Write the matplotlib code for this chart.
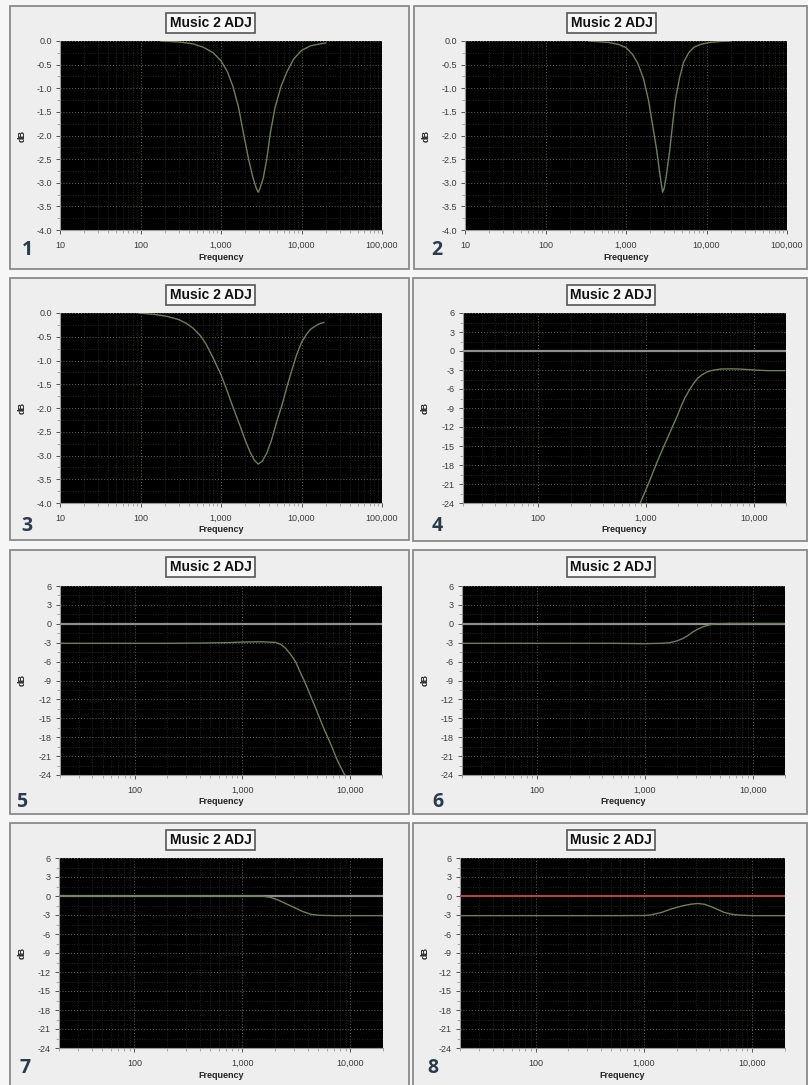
import matplotlib
matplotlib.use('Agg')
import matplotlib.pyplot as plt
from matplotlib.patches import Rectangle
from matplotlib.ticker import FixedLocator, FixedFormatter, LogLocator, NullFormatter, MultipleLocator

plt.rcParams['font.family'] = ['Liberation Sans', 'DejaVu Sans']
plt.rcParams['axes.unicode_minus'] = False

W, H = 808, 1085
TITLE = 'Music 2 ADJ'

# --- data (Hz, dB) ---
# panels 1-3: notch filters, 10 Hz - 100 kHz, 0 .. -4 dB
freq1 = [180, 300, 450, 600, 800, 1000, 1200, 1400, 1650, 1900, 2200, 2500, 2750, 2900,
         3050, 3350, 3700, 4100, 4700, 5600, 6600, 8000, 10000, 13000, 20000]
db1 = [0.0, -0.02, -0.06, -0.13, -0.25, -0.42, -0.65, -0.95, -1.4, -1.95, -2.5, -2.9, -3.12, -3.2,
       -3.12, -2.9, -2.5, -1.95, -1.4, -0.95, -0.65, -0.38, -0.2, -0.1, -0.04]

freq2 = [350, 600, 800, 1000, 1200, 1400, 1650, 1900, 2150, 2400, 2650, 2850, 3000, 3200,
         3500, 3800, 4100, 4600, 5200, 6000, 7000, 8500, 11000, 15000, 20000]
db2 = [0.0, -0.03, -0.07, -0.14, -0.28, -0.47, -0.8, -1.25, -1.8, -2.3, -2.85, -3.2, -3.1, -2.8,
       -2.3, -1.75, -1.25, -0.8, -0.45, -0.25, -0.13, -0.07, -0.03, -0.01, 0.0]

freq3 = [95, 150, 213, 300, 373, 450, 550, 650, 800, 1000, 1170, 1400, 1720, 2000, 2300, 2600,
         2900, 3250, 3700, 4200, 4900, 5700, 6600, 7600, 8700, 10000, 11500, 13000, 15000, 17000, 19000]
db3 = [0.0, -0.03, -0.07, -0.14, -0.22, -0.32, -0.47, -0.65, -0.95, -1.3, -1.6, -1.97, -2.37, -2.68, -2.93, -3.1,
       -3.18, -3.12, -2.95, -2.7, -2.3, -1.95, -1.55, -1.2, -0.88, -0.62, -0.45, -0.34, -0.27, -0.22, -0.2]

# panels 4-8: 20 Hz - 20 kHz, -24 .. 6 dB
freq4 = [885, 1000, 1112, 1250, 1428, 1600, 1770, 1950, 2115, 2300, 2525, 2750, 3020, 3350, 3740,
         4300, 4970, 6000, 7600, 10000, 13500, 19500]
db4 = [-24.0, -21.9, -20.0, -17.8, -15.5, -13.6, -11.9, -10.3, -8.8, -7.4, -6.2, -5.2, -4.3, -3.7, -3.27,
       -3.0, -2.85, -2.82, -2.85, -3.0, -3.1, -3.1]

freq5 = [20, 50, 100, 200, 400, 700, 1000, 1500, 2040, 2300, 2530, 2800, 3130, 3400, 3740, 4100,
         4480, 4900, 5340, 5800, 6390, 7000, 7640, 8400, 9300]
db5 = [-3.1, -3.1, -3.1, -3.1, -3.05, -3.0, -2.9, -2.85, -2.95, -3.3, -3.9, -4.8, -6.0, -7.4, -8.9, -10.5,
       -12.1, -13.7, -15.3, -16.8, -18.4, -20.0, -21.6, -23.0, -24.5]

freq6 = [20, 100, 500, 1000, 1400, 1700, 2000, 2270, 2540, 2810, 3150, 3480, 4000, 4630, 6000, 10000, 19500]
db6 = [-3.1, -3.1, -3.1, -3.15, -3.1, -3.0, -2.7, -2.3, -1.8, -1.25, -0.8, -0.46, -0.15, 0.0, 0.05, 0.05, 0.05]

freq7 = [20, 100, 1000, 1500, 1800, 2140, 2550, 3050, 3600, 4330, 5200, 7000, 10000, 20000]
db7 = [0.0, 0.0, 0.0, 0.0, -0.2, -0.63, -1.25, -1.85, -2.45, -2.9, -3.05, -3.1, -3.1, -3.1]

freq8 = [20, 100, 500, 1000, 1150, 1450, 1760, 2050, 2340, 2700, 3110, 3600, 4120, 4800, 5470,
         6300, 7250, 10000, 20000]
db8 = [-3.1, -3.1, -3.1, -3.08, -3.0, -2.6, -2.07, -1.75, -1.5, -1.3, -1.18, -1.3, -1.65, -2.15, -2.58,
       -2.85, -3.0, -3.1, -3.1]

ref_freq = [20, 19500]
ref_db = [0, 0]

wide_xticks = [10, 100, 1000, 10000, 100000]
wide_yticks = [0.0, -0.5, -1.0, -1.5, -2.0, -2.5, -3.0, -3.5, -4.0]
narrow_xticks = [100, 1000, 10000]
narrow_yticks = [6, 3, 0, -3, -6, -9, -12, -15, -18, -21, -24]

# --- layout in pixels: frame (l, t, r, b), plot (l, t, r, b), number position ---
panels = [
    (1, (10, 6, 409, 269), (60, 41, 382, 230), (27, 250), freq1, db1, None),
    (2, (414, 6, 807, 269), (465, 41, 787, 230), (437, 250), freq2, db2, None),
    (3, (10, 278, 409, 540), (60, 313, 382, 503), (27, 526), freq3, db3, None),
    (4, (413, 278, 807, 541), (463, 313, 786, 503), (437, 526), freq4, db4, '#8e8e8e'),
    (5, (10, 550, 409, 814), (60, 586, 382, 775), (22, 802), freq5, db5, '#8e8e8e'),
    (6, (413, 550, 807, 814), (462, 586, 785, 775), (438, 802), freq6, db6, '#8e8e8e'),
    (7, (10, 823, 409, 1092), (59, 858, 383, 1048), (25, 1068), freq7, db7, '#8e8e8e'),
    (8, (413, 823, 807, 1092), (460, 858, 785, 1048), (433, 1068), freq8, db8, '#a84842'),
]

fig = plt.figure(figsize=(W / 100, H / 100), dpi=100)
fig.patch.set_facecolor('#f6f6f6')


def fx(x):
    return x / W


def fy(y):
    return 1 - y / H


for num, frame, plot, numpos, freq, db, ref_color in panels:
    fl, ft, fr, fb = frame
    fig.add_artist(Rectangle((fx(fl), fy(fb)), (fr - fl) / W, (fb - ft) / H,
                             transform=fig.transFigure, facecolor='#eeeeee',
                             edgecolor='#8a8a8a', lw=1.3, zorder=0))
    pl, pt, pr, pb = plot
    ax = fig.add_axes([fx(pl), fy(pb), (pr - pl) / W, (pb - pt) / H])
    ax.set_facecolor('black')
    ax.set_xscale('log')
    wide = num <= 3
    if wide:
        ax.set_xlim(10, 100000)
        ax.set_ylim(-4, 0)
        ax.xaxis.set_major_locator(FixedLocator(wide_xticks))
        ax.xaxis.set_major_formatter(FixedFormatter([f'{v:,}' for v in wide_xticks]))
        ax.yaxis.set_major_locator(FixedLocator(wide_yticks))
        ax.yaxis.set_major_formatter(FixedFormatter([f'{v:.1f}' for v in wide_yticks]))
        ax.yaxis.set_minor_locator(MultipleLocator(0.25))
    else:
        ax.set_xlim(20, 20000)
        ax.set_ylim(-24, 6)
        ax.xaxis.set_major_locator(FixedLocator(narrow_xticks))
        ax.xaxis.set_major_formatter(FixedFormatter([f'{v:,}' for v in narrow_xticks]))
        ax.yaxis.set_major_locator(FixedLocator(narrow_yticks))
        ax.yaxis.set_major_formatter(FixedFormatter([str(v) for v in narrow_yticks]))
        ax.yaxis.set_minor_locator(MultipleLocator(1.5))
    ax.xaxis.set_minor_locator(LogLocator(base=10, subs=range(2, 10)))
    ax.xaxis.set_minor_formatter(NullFormatter())

    ax.grid(which='major', color='#66664e', ls=(0, (1, 2)), lw=0.7)
    ax.grid(which='minor', color='#2c2c24', ls=(0, (1, 2)), lw=0.6)
    ax.set_axisbelow(True)
    for side in ['top', 'right']:
        ax.spines[side].set_visible(False)
    for side in ['left', 'bottom']:
        ax.spines[side].set_color('#9a9a9a')
        ax.spines[side].set_linewidth(0.8)
    ax.tick_params(which='major', labelsize=6.5, colors='#3a3a3a', length=3, width=0.6, pad=3)
    ax.tick_params(which='minor', length=2, width=0.5, colors='#8a8a8a')
    ax.tick_params(axis='x', pad=5)

    if ref_color:
        ax.plot(ref_freq, ref_db, color=ref_color, lw=1.6, zorder=3)
    ax.plot(freq, db, color='#6d7f5d', lw=1.0, zorder=4)

    # title box, axis labels, panel number
    fig.text(fx((fl + fr) / 2 + 1), fy(ft + 17), TITLE, ha='center', va='center',
             fontsize=10, fontweight='bold', color='#111111',
             bbox=dict(boxstyle='square,pad=0.25', fc='#f8f8f8', ec='#555555', lw=1.2))
    fig.text(fx(fl + 12), fy((pt + pb) / 2), 'dB', rotation=90, ha='center', va='center',
             fontsize=6.5, fontweight='bold', color='#222222')
    fig.text(fx((pl + pr) / 2), fy(pb + 27), 'Frequency', ha='center', va='center',
             fontsize=6.5, fontweight='bold', color='#222222')
    fig.text(fx(numpos[0]), fy(numpos[1]), str(num), ha='center', va='center',
             fontsize=14, fontweight='bold', color='#2b3a4c', family=['Open Sans', 'DejaVu Sans'])

fig.savefig('out.png', dpi=100, facecolor=fig.get_facecolor())
